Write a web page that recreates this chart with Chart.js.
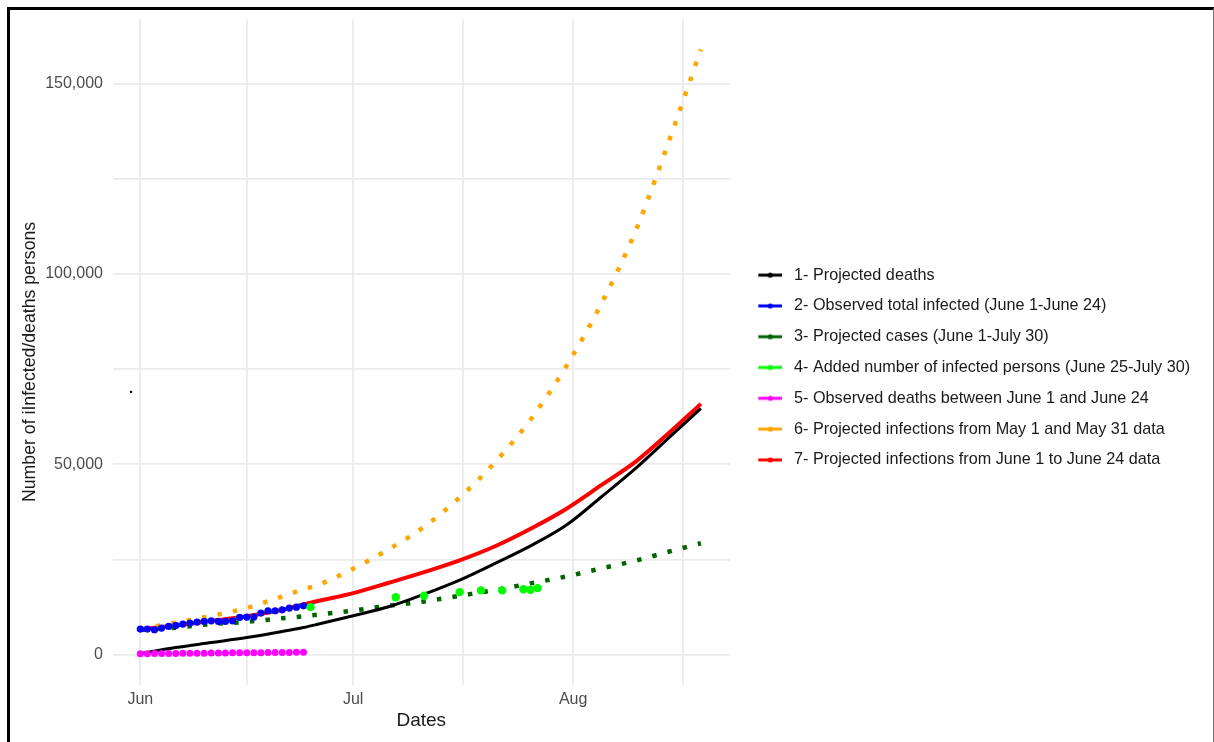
<!DOCTYPE html>
<html>
<head>
<meta charset="utf-8">
<script src="https://cdn.jsdelivr.net/npm/chart.js@4.4.1/dist/chart.umd.min.js"></script>
<style>
  html, body { margin: 0; padding: 0; background: #fff; }
  #wrap { position: relative; width: 1214px; height: 742px; }
  #frame { position: absolute; left: 7px; top: 7px; width: 1207px; height: 735px; box-sizing: border-box;
           border-left: 3px solid #000; border-top: 3px solid #000; border-right: 1px solid #777; pointer-events: none; }
</style>
</head>
<body>
<div id="wrap">
  <canvas id="chart" width="1214" height="742"></canvas>
  <div id="frame"></div>
</div>
<script>
// days counted from June 1 (day 0)
const xTickDays = [0, 30, 61];
const xTickLabels = ['Jun', 'Jul', 'Aug'];
const xMinorDays = [15, 45.5, 76.5];
const yTicks = [0, 50000, 100000, 150000];
const yMinor = [25000, 75000, 125000];

// curves (read at these days)
const lineDays = [0, 5, 10, 15, 20, 23, 25, 30, 35, 40, 45, 50, 55, 60, 65, 70, 75, 79];
const projDeaths = [300, 1900, 3200, 4500, 6100, 7150, 8000, 10250, 12600, 15900, 19600, 24000, 28600, 34000, 41500, 49300, 57900, 64700];
const projCases = [6500, 7100, 8050, 8650, 9580, 10100, 10550, 11600, 12900, 14000, 15500, 17000, 18750, 20550, 22700, 24800, 27350, 29300];
const projMay = [6800, 8400, 10200, 12300, 15300, 17200, 18300, 22600, 27700, 33600, 41300, 50600, 61800, 75700, 92300, 112300, 137600, 159000];
const projJune = [6700, 7700, 8900, 10100, 11800, 13200, 14100, 16200, 18900, 21700, 24800, 28500, 33100, 38300, 44600, 51000, 59100, 65900];

// observed points
const obsDays = [0, 1, 2, 3, 4, 5, 6, 7, 8, 9, 10, 11, 12, 13, 14, 15, 16, 17, 18, 19, 20, 21, 22, 23];
const obsInfected = [6740, 6740, 6560, 7000, 7440, 7700, 8050, 8310, 8570, 8750, 8920, 8750, 8750, 8920, 9800, 9890, 9890, 10940, 11550, 11550, 11800, 12250, 12500, 12860];
const obsDeaths = [250, 280, 300, 310, 330, 350, 370, 390, 400, 420, 440, 450, 470, 490, 500, 520, 540, 550, 570, 590, 600, 620, 640, 650];
const addedDays = [24, 36, 40, 45, 48, 51, 54, 55, 56];
const addedInfected = [12500, 15100, 15500, 16450, 16900, 16900, 17200, 17050, 17500];

const seriesLabels = [
  '1- Projected deaths',
  '2- Observed total infected (June 1-June 24)',
  '3- Projected cases (June 1-July 30)',
  '4- Added number of infected persons (June 25-July 30)',
  '5- Observed deaths between June 1 and June 24',
  '6- Projected infections from May 1 and May 31 data',
  '7- Projected infections from June 1 to June 24 data'
];
const seriesColors = ['#000000', '#0000ff', '#006400', '#00ff00', '#ff00ff', '#ffa500', '#ff0000'];

const FONT = "'Liberation Sans', Arial, sans-serif";
const LEGEND_WIDTH = 484;   // from the panel's right edge to the canvas edge

function pts(xs, ys) {
    return xs.map((x, i) => ({ x: x, y: ys[i] }));
}

function keyIcon(color) {
    const c = document.createElement('canvas');
    c.width = 34; c.height = 10;
    const g = c.getContext('2d');
    g.strokeStyle = color;
    g.lineWidth = 3;
    g.beginPath(); g.moveTo(10, 5); g.lineTo(34, 5); g.stroke();
    g.fillStyle = color;
    g.beginPath(); g.arc(22, 5, 2.6, 0, Math.PI * 2); g.fill();
    return c;
}

// chart.js caps a side legend at a quarter of the width; let it take what it needs
const widenLegend = {
    id: 'widenLegend',
    beforeLayout(chart) {
        const lg = chart.legend;
        if (lg && !lg._widened) {
            const fit = lg.fit;
            lg.fit = function () { fit.call(this); this.width = LEGEND_WIDTH; };
            lg._widened = true;
        }
    }
};

const dotted = [4.5, 11.2];

const chart = new Chart(document.getElementById('chart'), {
    type: 'line',
    plugins: [widenLegend],
    data: {
        datasets: [
            { label: seriesLabels[0], data: pts(lineDays, projDeaths), borderColor: seriesColors[0], borderWidth: 3,
              pointRadius: 0, cubicInterpolationMode: 'monotone', order: 2 },
            { label: seriesLabels[1], data: pts(obsDays, obsInfected), showLine: false, pointRadius: 3.6,
              backgroundColor: seriesColors[1], borderWidth: 0, order: 1 },
            { label: seriesLabels[2], data: pts(lineDays, projCases), borderColor: seriesColors[2], borderWidth: 4.5,
              borderDash: dotted, borderCapStyle: 'butt', pointRadius: 0, cubicInterpolationMode: 'monotone', order: 3 },
            { label: seriesLabels[3], data: pts(addedDays, addedInfected), showLine: false, pointRadius: 4.2,
              backgroundColor: seriesColors[3], borderWidth: 0, order: 0 },
            { label: seriesLabels[4], data: pts(obsDays, obsDeaths), showLine: false, pointRadius: 3.5,
              backgroundColor: seriesColors[4], borderWidth: 0, order: 1 },
            { label: seriesLabels[5], data: pts(lineDays, projMay), borderColor: seriesColors[5], borderWidth: 4.5,
              borderDash: dotted, borderCapStyle: 'butt', pointRadius: 0, cubicInterpolationMode: 'monotone', order: 3 },
            { label: seriesLabels[6], data: pts(lineDays, projJune), borderColor: seriesColors[6], borderWidth: 4,
              pointRadius: 0, cubicInterpolationMode: 'monotone', order: 3 },
            // stray mark left of the June line
            { label: 'stray', data: [{ x: -1.3, y: 69000 }], showLine: false, pointRadius: 1.2,
              backgroundColor: '#000', borderWidth: 0, order: 0 }
        ]
    },
    options: {
        responsive: false,
        animation: false,
        layout: { padding: { left: 0, right: 0, top: 0, bottom: 7 } },
        scales: {
            x: {
                type: 'linear', min: -3.9, max: 83.1,
                afterBuildTicks: s => { s.ticks = xTickDays.concat(xMinorDays).sort((a, b) => a - b).map(v => ({ value: v })); },
                afterFit: s => { s.height = 50; },
                ticks: {
                    autoSkip: false, maxRotation: 0, padding: 5, color: '#4d4d4d',
                    font: { family: FONT, size: 16 },
                    callback: v => { const i = xTickDays.indexOf(v); return i >= 0 ? xTickLabels[i] : ''; }
                },
                grid: { color: '#ebebeb', lineWidth: 1.8, drawTicks: false },
                border: { display: false },
                title: { display: true, text: 'Dates', color: '#1a1a1a', font: { family: FONT, size: 19 },
                         padding: { top: 0, bottom: 2.6 } }
            },
            y: {
                type: 'linear', min: -7950, max: 166950,
                afterBuildTicks: s => { s.ticks = yTicks.concat(yMinor).sort((a, b) => a - b).map(v => ({ value: v })); },
                afterFit: s => { s.width = 112.6; },
                ticks: {
                    autoSkip: false, padding: 9.6, color: '#4d4d4d',
                    font: { family: FONT, size: 16 },
                    callback: v => yTicks.includes(v) ? v.toLocaleString('en-US') : ''
                },
                grid: { color: '#ebebeb', lineWidth: 1.8, drawTicks: false },
                border: { display: false },
                title: { display: true, text: 'Number of iInfected/deaths persons    ', color: '#1a1a1a',
                         font: { family: FONT, size: 17.7 }, padding: { top: 19.4, bottom: 0 } }
            }
        },
        plugins: {
            title: { display: true, text: '', font: { size: 10 }, padding: { top: 0, bottom: 7 } },
            tooltip: { enabled: false },
            legend: {
                position: 'right',
                labels: {
                    usePointStyle: true,
                    pointStyleWidth: 41.4,
                    padding: 14.6,
                    color: '#1a1a1a',
                    font: { family: FONT, size: 16.2 },
                    generateLabels: c => c.data.datasets.slice(0, 7).map((ds, i) => ({
                        text: ds.label,
                        pointStyle: keyIcon(seriesColors[i]),
                        fillStyle: seriesColors[i],
                        strokeStyle: seriesColors[i],
                        lineWidth: 0,
                        hidden: false,
                        datasetIndex: i,
                        fontColor: '#1a1a1a'
                    }))
                }
            }
        }
    }
});
</script>
</body>
</html>
